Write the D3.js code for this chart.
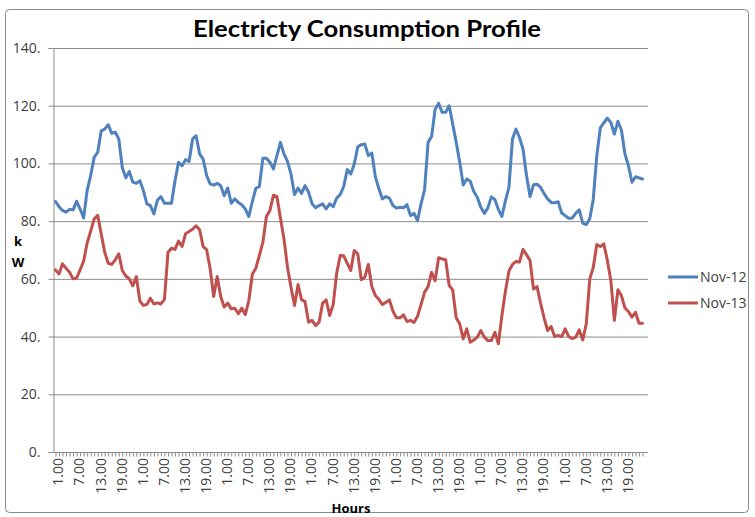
<!DOCTYPE html>
<html>
<head>
<meta charset="utf-8">
<script src="https://cdn.jsdelivr.net/npm/d3@7"></script>
<style>
  html, body { margin: 0; padding: 0; background: #fff; }
  svg { display: block; }
</style>
</head>
<body>
<svg id="chart" width="755" height="517"></svg>
<script>
// ---- data ----
const chartTitle = "Electricty Consumption Profile";
const seriesNames = ["Nov-12", "Nov-13"];
const seriesColors = ["#4F81BD", "#C0504D"];
const hourTickLabels = ["1.00", "7.00", "13.00", "19.00"];
const hourTickStep = 6;
const hoursPerDay = 24;
const numDays = 7;
const yTickValues = [0, 20, 40, 60, 80, 100, 120, 140];

const nov12 = [
  86.8, 85.0, 83.7, 83.1, 84.1, 83.9, 86.9, 84.2, 81.1, 90.6,
  95.8, 102.1, 103.8, 111.3, 111.9, 113.4, 110.4, 110.8, 108.5, 98.6,
  95.0, 97.2, 93.5, 93.1, 94.0, 90.6, 86.0, 85.4, 82.5, 87.3,
  88.5, 86.2, 86.2, 86.2, 94.0, 100.4, 99.2, 101.3, 100.7, 108.5,
  109.6, 103.3, 101.5, 95.8, 92.9, 92.5, 93.1, 92.3, 88.8, 91.5,
  86.2, 87.7, 86.5, 85.7, 84.2, 81.6, 86.8, 91.4, 92.0, 101.8,
  101.8, 100.4, 98.1, 102.7, 107.3, 103.3, 100.7, 96.3, 89.2, 91.5,
  89.6, 92.3, 90.0, 86.0, 84.6, 85.4, 86.0, 84.2, 86.0, 85.0,
  88.0, 89.2, 92.0, 97.9, 96.3, 99.8, 105.8, 106.5, 106.7, 102.7,
  103.6, 95.4, 91.2, 87.7, 88.5, 88.0, 85.4, 84.5, 84.8, 84.6,
  85.7, 81.9, 82.7, 80.2, 86.0, 90.8, 107.3, 109.3, 118.8, 120.8,
  117.7, 117.7, 120.0, 113.7, 107.3, 100.4, 92.5, 94.6, 93.8, 90.3,
  88.3, 84.8, 82.7, 84.6, 88.4, 87.5, 84.0, 81.6, 87.1, 91.7,
  108.5, 111.9, 109.0, 105.0, 95.8, 88.5, 92.6, 92.8, 91.7, 89.6,
  87.7, 86.5, 86.4, 86.7, 82.8, 81.9, 81.0, 81.1, 82.7, 83.9,
  79.3, 78.8, 80.8, 87.7, 102.7, 112.3, 114.1, 115.7, 114.2, 110.2,
  114.6, 111.6, 103.3, 99.2, 93.5, 95.4, 95.0, 94.6
];

const nov13 = [
  63.1, 61.7, 65.2, 63.7, 62.3, 60.0, 60.3, 63.1, 66.1, 72.4,
  76.5, 80.8, 82.0, 75.6, 69.2, 65.4, 65.0, 66.6, 68.7, 62.9,
  61.0, 60.0, 57.6, 60.8, 52.3, 50.8, 51.1, 53.3, 51.3, 51.7,
  51.3, 52.9, 69.2, 70.6, 70.2, 73.1, 71.2, 75.6, 76.4, 77.2,
  78.4, 77.0, 71.2, 70.1, 63.5, 53.9, 60.8, 53.9, 50.2, 51.6,
  49.6, 49.8, 47.9, 49.9, 47.6, 52.5, 61.6, 63.7, 68.1, 72.7,
  81.6, 83.7, 89.0, 88.5, 81.0, 73.9, 64.0, 57.1, 50.8, 58.0,
  52.8, 52.1, 45.0, 45.6, 43.8, 45.0, 51.6, 52.7, 47.3, 51.1,
  62.0, 68.1, 68.0, 65.4, 62.9, 69.8, 68.7, 59.7, 60.6, 65.0,
  57.3, 54.2, 52.9, 51.1, 51.9, 52.7, 48.8, 46.5, 46.5, 47.5,
  45.2, 45.6, 44.9, 47.0, 51.1, 55.4, 57.3, 62.3, 59.4, 67.3,
  66.9, 66.6, 57.7, 56.2, 46.5, 44.4, 39.2, 42.7, 38.0, 38.8,
  39.8, 42.1, 39.8, 38.6, 38.6, 41.5, 37.5, 47.3, 55.7, 62.7,
  65.0, 66.0, 65.8, 70.2, 68.4, 66.4, 56.5, 57.3, 51.6, 46.5,
  42.1, 43.5, 40.0, 40.4, 40.0, 42.7, 40.0, 39.3, 39.8, 42.3,
  38.8, 44.4, 60.0, 64.0, 71.9, 71.2, 72.1, 66.4, 59.4, 45.6,
  56.2, 54.2, 49.9, 48.7, 46.7, 48.4, 44.6, 44.6
];

// ---- layout ----
const svg = d3.select("#chart");
const W = 755, H = 517;
const plot = { left: 53, right: 648, top: 48, bottom: 452 };
const nPts = hoursPerDay * numDays;
const FONT = "'Open Sans', 'Liberation Sans', sans-serif";
const TXT = "#404040";
const GRID = "#8c8c8c";

svg.append("rect").attr("width", W).attr("height", H).attr("fill", "#fff");
svg.append("rect")
  .attr("x", 5.5).attr("y", 9.5).attr("width", 743).attr("height", 503)
  .attr("rx", 4).attr("fill", "#fff").attr("stroke", "#8a8a8a").attr("stroke-width", 1);

const x = d3.scaleLinear().domain([0, nPts - 1]).range([55.5, 642.5]);
const y = d3.scaleLinear().domain([0, 140]).range([plot.bottom, plot.top]);

// gridlines
svg.append("g")
  .attr("transform", `translate(${plot.left},0)`)
  .call(d3.axisLeft(y).tickValues(yTickValues).tickSize(-(plot.right - plot.left)).tickFormat(""))
  .call(g => g.select(".domain").remove())
  .call(g => g.selectAll("line").attr("stroke", GRID).attr("stroke-width", 1));

// y axis with outside ticks + labels
const yAxis = svg.append("g")
  .attr("transform", `translate(${plot.left + 0.5},0)`)
  .call(d3.axisLeft(y).tickValues(yTickValues).tickSize(5).tickPadding(8).tickFormat(d => d + "."));
yAxis.select(".domain").attr("stroke", GRID);
yAxis.selectAll("line").attr("stroke", GRID);
yAxis.selectAll("text").attr("font-family", FONT).attr("font-size", 14).attr("fill", TXT);

// x axis: ticks at every hour
const xAxis = svg.append("g")
  .attr("transform", `translate(0,${plot.bottom + 0.5})`)
  .call(d3.axisBottom(x).tickValues(d3.range(nPts)).tickSize(4).tickFormat(""));
xAxis.select(".domain").attr("d", `M${plot.left},0H${plot.right}`).attr("stroke", GRID);
xAxis.selectAll("line").attr("stroke", GRID);

// x labels (rotated)
const labelIdx = d3.range(0, nPts, hourTickStep);
svg.append("g").selectAll("text")
  .data(labelIdx)
  .join("text")
  .attr("transform", d => `translate(${x(d) + 3},${plot.bottom + 6}) rotate(-90)`)
  .attr("text-anchor", "end")
  .attr("dy", "0.35em")
  .attr("font-family", FONT).attr("font-size", 14).attr("fill", TXT)
  .text(d => hourTickLabels[(d % hoursPerDay) / hourTickStep]);

// lines
const line = d3.line().x((d, i) => x(i)).y(d => y(d));
[nov12, nov13].forEach((s, k) => {
  svg.append("path")
    .datum(s)
    .attr("d", line)
    .attr("fill", "none")
    .attr("stroke", seriesColors[k])
    .attr("stroke-width", 3)
    .attr("stroke-linejoin", "round")
    .attr("stroke-linecap", "round");
});

// title
svg.append("text")
  .attr("x", 367).attr("y", 37)
  .attr("text-anchor", "middle")
  .attr("font-family", "Lato, 'Open Sans', sans-serif")
  .attr("font-weight", "bold").attr("font-size", 23)
  .attr("textLength", 348).attr("lengthAdjust", "spacingAndGlyphs")
  .attr("fill", "#000")
  .text(chartTitle);

// y label "k W"
svg.append("text").attr("x", 18).attr("y", 246).attr("text-anchor", "middle")
  .attr("font-family", FONT).attr("font-weight", "bold").attr("font-size", 13).text("k");
svg.append("text").attr("x", 18).attr("y", 267).attr("text-anchor", "middle")
  .attr("font-family", FONT).attr("font-weight", "bold").attr("font-size", 13).text("W");

// x title
svg.append("text").attr("x", 351).attr("y", 513).attr("text-anchor", "middle")
  .attr("font-family", FONT).attr("font-weight", "bold").attr("font-size", 13).text("Hours");

// legend
const legend = svg.append("g");
seriesNames.forEach((name, k) => {
  const ly = 277 + k * 26;
  legend.append("line").attr("x1", 668).attr("x2", 698).attr("y1", ly).attr("y2", ly)
    .attr("stroke", seriesColors[k]).attr("stroke-width", 3);
  legend.append("text").attr("x", 700).attr("y", ly).attr("dy", "0.35em")
    .attr("font-family", FONT).attr("font-size", 14).attr("fill", TXT).text(name);
});
</script>
</body>
</html>
